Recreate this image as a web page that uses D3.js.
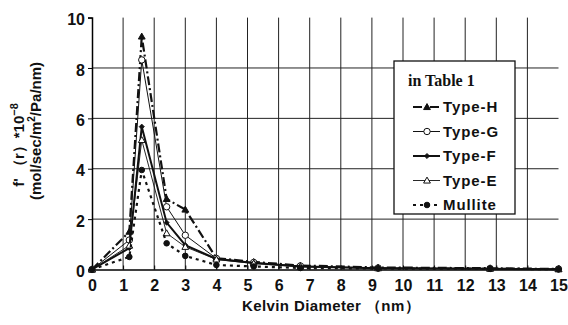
<!DOCTYPE html>
<html>
<head>
<meta charset="utf-8">
<script src="https://cdn.jsdelivr.net/npm/d3@7"></script>
<style>
  body { margin: 0; background: #fff; }
  svg { display: block; }
  text { fill: #111; }
</style>
</head>
<body>
<svg id="chart" width="568" height="325"></svg>
<script>
// Kelvin diameter (nm) of each measured point
const diameters = [0, 1.2, 1.6, 2.4, 3.0, 4.0, 5.2, 6.7, 9.2, 12.8, 15];

// f'(r) * 1e-8 per membrane
const typeH   = [0, 1.5, 9.25, 2.8, 2.38, 0.45, 0.3, 0.16, 0.08, 0.05, 0.02];
const typeG   = [0, 1.17, 8.32, 2.49, 1.36, 0.44, 0.28, 0.14, 0.06, 0.04, 0.02];
const typeF   = [0, 0.85, 5.67, 1.86, 0.97, 0.42, 0.26, 0.12, 0.05, 0.03, 0.01];
const typeE   = [0, 0.95, 5.14, 1.44, 0.9, 0.4, 0.24, 0.11, 0.05, 0.03, 0.01];
const mullite = [0, 0.5, 3.95, 1.04, 0.54, 0.18, 0.12, 0.06, 0.04, 0.03, 0.01];

const seriesNames = ['Type-H', 'Type-G', 'Type-F', 'Type-E', 'Mullite'];
const seriesValues = [typeH, typeG, typeF, typeE, mullite];

const xTicks = d3.range(0, 16);
const yTicks = [0, 2, 4, 6, 8, 10];

// Styles per series (line + marker)
const styles = {
  'Type-H':  { width: 2.2, dash: '9,3,2,3', marker: 'triangle', fill: '#111' },
  'Type-G':  { width: 1,   dash: null,      marker: 'circle',   fill: '#fff' },
  'Type-F':  { width: 2,   dash: null,      marker: 'diamond',  fill: '#111' },
  'Type-E':  { width: 0.9, dash: null,      marker: 'triangle', fill: '#fff' },
  'Mullite': { width: 2.2, dash: '3,4',     marker: 'dot',      fill: '#111' }
};

const svg = d3.select('#chart');
const plotLeft = 92, plotRight = 558.5, plotTop = 17.6, plotBottom = 269.5;

const x = d3.scaleLinear().domain([0, 15]).range([plotLeft, plotRight]);
const y = d3.scaleLinear().domain([0, 10]).range([plotBottom, plotTop]);

// Grid
const grid = svg.append('g').attr('stroke', '#222').attr('stroke-width', 1);
grid.selectAll('line.v').data(xTicks.filter(d => d > 0 && d < 15)).join('line')
  .attr('class', 'v')
  .attr('x1', d => x(d)).attr('x2', d => x(d))
  .attr('y1', plotTop).attr('y2', plotBottom);
grid.selectAll('line.h').data(yTicks.filter(d => d > 0 && d < 10)).join('line')
  .attr('class', 'h')
  .attr('x1', plotLeft).attr('x2', plotRight)
  .attr('y1', d => y(d)).attr('y2', d => y(d));

// Axes
const yAxis = svg.append('g').attr('transform', `translate(${plotLeft},0)`)
  .call(d3.axisLeft(y).tickValues(yTicks).tickSize(4).tickFormat(d3.format('d')));
const xAxis = svg.append('g').attr('transform', `translate(0,${plotBottom})`)
  .call(d3.axisBottom(x).tickValues(xTicks).tickSize(-4).tickFormat(d3.format('d')));

[yAxis, xAxis].forEach(a => {
  a.select('.domain').attr('stroke', '#000').attr('stroke-width', 1.5);
  a.selectAll('.tick line').attr('stroke', '#000');
  a.selectAll('.tick text')
    .attr('font-family', 'Liberation Sans, Arial, sans-serif')
    .attr('font-size', 16).attr('font-weight', 'bold').attr('fill', '#111');
});
yAxis.selectAll('.tick text').attr('x', -7).attr('dy', '0.45em');
xAxis.selectAll('.tick text').attr('y', 10).attr('dy', '0.71em');

// Axis titles
svg.append('text')
  .attr('x', 331).attr('y', 311)
  .attr('text-anchor', 'middle')
  .attr('font-family', 'Liberation Sans, Arial, sans-serif')
  .attr('font-size', 15).attr('font-weight', 'bold')
  .attr('letter-spacing', 0.4)
  .text('Kelvin Diameter （nm）');

const t1 = svg.append('text')
  .attr('transform', 'translate(24,145) rotate(-90)')
  .attr('text-anchor', 'middle')
  .attr('font-family', 'Liberation Sans, Arial, sans-serif')
  .attr('font-size', 15).attr('font-weight', 'bold');
t1.append('tspan').text('f\' （r）*10');
t1.append('tspan').attr('dy', -6).attr('font-size', 11).text('−8');

const t2 = svg.append('text')
  .attr('transform', 'translate(41,131) rotate(-90)')
  .attr('text-anchor', 'middle')
  .attr('font-family', 'Liberation Sans, Arial, sans-serif')
  .attr('font-size', 15).attr('font-weight', 'bold');
t2.append('tspan').text('(mol/sec/m');
t2.append('tspan').attr('dy', -6).attr('font-size', 10).text('2');
t2.append('tspan').attr('dy', 6).text('/Pa/nm)');

// Marker drawing
function drawMarker(g, kind, fill, cx, cy) {
  if (kind === 'circle' || kind === 'dot') {
    g.append('circle').attr('cx', cx).attr('cy', cy).attr('r', kind === 'dot' ? 2.8 : 3.2)
      .attr('fill', fill).attr('stroke', '#111').attr('stroke-width', 1);
  } else if (kind === 'triangle') {
    const s = 3.4;
    g.append('path')
      .attr('d', `M${cx},${cy - s}L${cx + s},${cy + s * 0.75}L${cx - s},${cy + s * 0.75}Z`)
      .attr('fill', fill).attr('stroke', '#111').attr('stroke-width', 1);
  } else {
    const s = 2.6;
    g.append('path')
      .attr('d', `M${cx},${cy - s}L${cx + s},${cy}L${cx},${cy + s}L${cx - s},${cy}Z`)
      .attr('fill', fill).attr('stroke', '#111').attr('stroke-width', 0.8);
  }
}

// Series lines
const line = d3.line().x(d => x(d[0])).y(d => y(d[1]));
const plot = svg.append('g');
seriesNames.forEach((name, i) => {
  const st = styles[name];
  const pts = diameters.map((d, j) => [d, seriesValues[i][j]]);
  plot.append('path').datum(pts)
    .attr('d', line).attr('fill', 'none')
    .attr('stroke', '#111').attr('stroke-width', st.width)
    .attr('stroke-dasharray', st.dash);
  const mg = plot.append('g');
  pts.forEach(p => drawMarker(mg, st.marker, st.fill, x(p[0]), y(p[1])));
});

// Legend
const lg = svg.append('g');
lg.append('rect').attr('x', 394).attr('y', 61).attr('width', 121).attr('height', 153)
  .attr('fill', '#fff').attr('stroke', '#111').attr('stroke-width', 1.3);
lg.append('text').attr('x', 408).attr('y', 86)
  .attr('font-family', 'Liberation Serif, Times New Roman, serif')
  .attr('font-size', 16).attr('font-weight', 'bold')
  .text('in Table 1');
seriesNames.forEach((name, i) => {
  const st = styles[name];
  const cy = 107 + i * 24.5;
  lg.append('line').attr('x1', 413).attr('x2', 440).attr('y1', cy).attr('y2', cy)
    .attr('stroke', '#111').attr('stroke-width', st.width)
    .attr('stroke-dasharray', st.dash);
  drawMarker(lg, st.marker, st.fill, 427, cy);
  lg.append('text').attr('x', 443).attr('y', cy + 5)
    .attr('font-family', 'Liberation Sans, Arial, sans-serif')
    .attr('font-size', 15).attr('font-weight', 'bold')
    .attr('letter-spacing', 0.9)
    .text(name);
});
</script>
</body>
</html>
